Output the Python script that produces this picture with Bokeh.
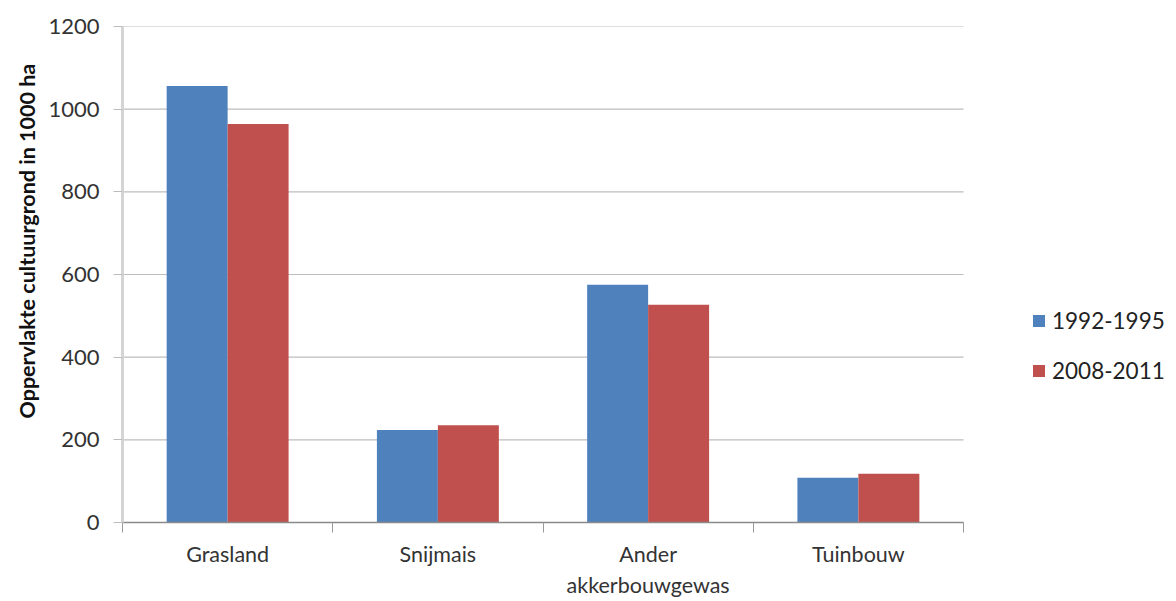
from bokeh.plotting import figure
from bokeh.models import (Range1d, FixedTicker, Legend, LegendItem, Title,
                          ColumnDataSource)
from bokeh.embed import file_html
from bokeh.resources import INLINE

categories = ["Grasland", "Snijmais", "Ander\nakkerbouwgewas", "Tuinbouw"]
series_names = ["1992-1995", "2008-2011"]
values_1992_1995 = [1056, 224, 575, 108]
values_2008_2011 = [964, 235, 527, 118]
y_ticks = [0, 200, 400, 600, 800, 1000, 1200]

BLUE = "#4F81BD"
RED = "#C0504D"
FONT = "Lato"

n = len(categories)
centers = [i + 0.5 for i in range(n)]
bw = 0.29

W, H = 1168, 601
LEFT, TOP, BOTTOM = 122, 26, 79
frame_w = W - LEFT
cat_px = 210.25  # pixels per category in the plot area

src1 = ColumnDataSource(dict(left=[c - bw for c in centers], right=centers,
                             top=values_1992_1995))
src2 = ColumnDataSource(dict(left=centers, right=[c + bw for c in centers],
                             top=values_2008_2011))

p = figure(width=W, height=H, output_backend="svg", toolbar_location=None,
           x_range=Range1d(0, frame_w / cat_px), y_range=Range1d(0, 1200),
           min_border_left=LEFT, min_border_right=0, min_border_top=TOP,
           min_border_bottom=BOTTOM)
p.outline_line_color = None
p.background_fill_color = "white"
p.border_fill_color = "white"

# horizontal gridlines limited to the category area
p.segment(x0=[0] * len(y_ticks), x1=[n] * len(y_ticks), y0=y_ticks, y1=y_ticks,
          line_color="#bdbdbd", line_width=1.2)

r1 = p.quad(left="left", right="right", top="top", bottom=0, source=src1,
            fill_color=BLUE, line_color=None)
r2 = p.quad(left="left", right="right", top="top", bottom=0, source=src2,
            fill_color=RED, line_color=None)

# x axis (categories)
xa = p.xaxis[0]
xa.bounds = (0, n)
xa.ticker = FixedTicker(ticks=centers, minor_ticks=list(range(n + 1)))
xa.major_label_overrides = {c: lab for c, lab in zip(centers, categories)}
xa.major_tick_out = 0
xa.major_tick_in = 0
xa.minor_tick_out = 10
xa.minor_tick_in = 0
xa.minor_tick_line_color = "#9a9a9a"
xa.axis_line_color = "#8a8a8a"
xa.axis_line_width = 1.5
xa.major_label_text_font = FONT
xa.major_label_text_font_size = "21.5px"
xa.major_label_text_color = "#333333"
xa.major_label_standoff = 8
p.xgrid.grid_line_color = None
p.ygrid.grid_line_color = None

# y axis
ya = p.yaxis[0]
ya.ticker = FixedTicker(ticks=y_ticks, minor_ticks=[])
ya.major_tick_out = 9
ya.major_tick_in = 0
ya.major_tick_line_color = "#bdbdbd"
ya.axis_line_color = "#d4d4d4"
ya.axis_line_width = 3
ya.major_label_text_font = FONT
ya.major_label_text_font_size = "22px"
ya.major_label_text_color = "#333333"
ya.major_label_standoff = 14

title = Title(text="Oppervlakte cultuurgrond  in 1000 ha", align="left",
              offset=104, text_font=FONT, text_font_style="bold",
              text_font_size="21.5px", text_color="#111111", standoff=11)
p.add_layout(title, "left")

legend = Legend(items=[LegendItem(label=series_names[0], renderers=[r1]),
                       LegendItem(label=series_names[1], renderers=[r2])],
                location=(909, 138), orientation="vertical",
                border_line_color=None, background_fill_alpha=0,
                padding=0, margin=0, spacing=22,
                glyph_width=15, glyph_height=15, label_height=28,
                label_standoff=6, label_text_font=FONT,
                label_text_font_size="22.5px", label_text_color="#222222")
p.add_layout(legend, "center")

open("out.html", "w").write(file_html(p, INLINE))
